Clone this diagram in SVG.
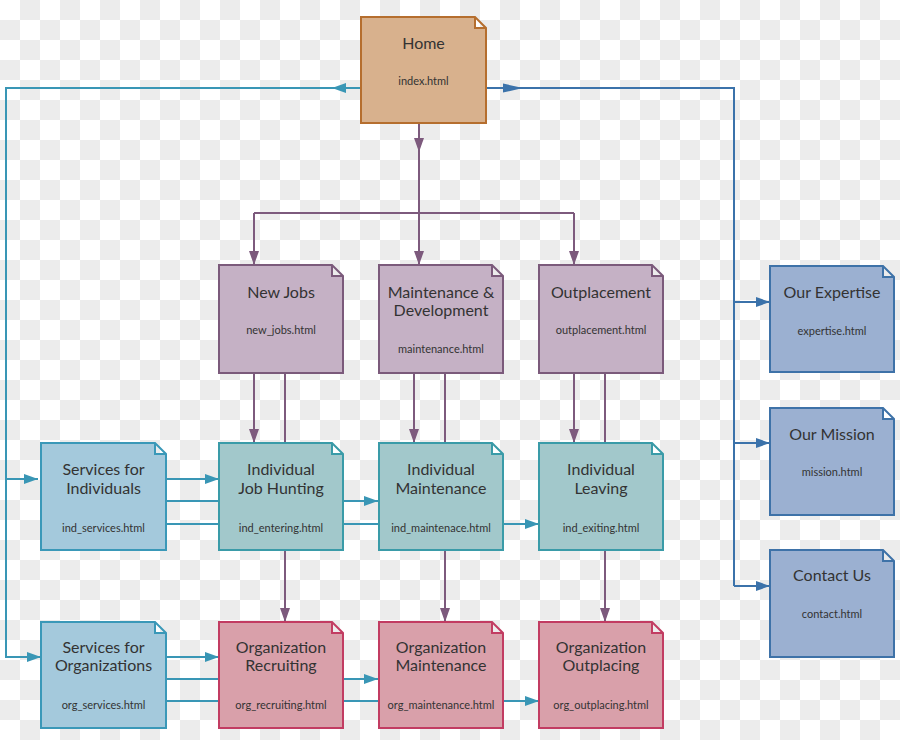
<svg xmlns="http://www.w3.org/2000/svg" width="900" height="740" viewBox="0 0 900 740">
<defs>
<pattern id="checker" x="0" y="0" width="40" height="40" patternUnits="userSpaceOnUse">
<rect width="40" height="40" fill="#ffffff"/>
<rect x="20" y="0" width="20" height="20" fill="#ececec"/>
<rect x="0" y="20" width="20" height="20" fill="#ececec"/>
</pattern>
<marker id="ap" viewBox="0 0 14 10" refX="14" refY="5" markerWidth="14" markerHeight="10" markerUnits="userSpaceOnUse" orient="auto"><path d="M0,0 L14,5 L0,10 Z" fill="#7d5a7d"/></marker>
<marker id="ac" viewBox="0 0 14 10" refX="14" refY="5" markerWidth="14" markerHeight="10" markerUnits="userSpaceOnUse" orient="auto"><path d="M0,0 L14,5 L0,10 Z" fill="#3996b5"/></marker>
<marker id="ab" viewBox="0 0 14 10" refX="14" refY="5" markerWidth="14" markerHeight="10" markerUnits="userSpaceOnUse" orient="auto"><path d="M0,0 L14,5 L0,10 Z" fill="#3b72aa"/></marker>
</defs>
<style>
.t{font-family:Lato,"Open Sans","Liberation Sans",sans-serif;font-size:16px;fill:#333;text-anchor:middle}
.f{font-family:Lato,"Open Sans","Liberation Sans",sans-serif;font-size:11px;fill:#333;text-anchor:middle}
.box{stroke-width:2;stroke-linejoin:miter}
.home{fill:#d8b18d;stroke:#b56e2e}
.pur{fill:#c5b1c5;stroke:#7b5a7b}
.teal{fill:#a2c8cb;stroke:#3a9ba8}
.svc{fill:#a4c9dc;stroke:#3a98b8}
.red{fill:#d9a0aa;stroke:#c23c62}
.blu{fill:#9bb0d1;stroke:#3e72a8}
.cp{fill:none;stroke:#7d5a7d;stroke-width:2}
.cc{fill:none;stroke:#3996b5;stroke-width:2}
.cb{fill:none;stroke:#3b72aa;stroke-width:2}
</style>
<rect width="900" height="740" fill="url(#checker)"/>

<g id="connectors">
<path class="cp" d="M419,124 V213"/>
<path class="cp" d="M419,138 V152" marker-end="url(#ap)"/>
<path class="cp" d="M254,213 H574"/>
<path class="cp" d="M254,213 V265" marker-end="url(#ap)"/>
<path class="cp" d="M419,213 V265" marker-end="url(#ap)"/>
<path class="cp" d="M574,213 V265" marker-end="url(#ap)"/>
<path class="cp" d="M254,373 V443" marker-end="url(#ap)"/>
<path class="cp" d="M285,373 V622" marker-end="url(#ap)"/>
<path class="cp" d="M414,373 V443" marker-end="url(#ap)"/>
<path class="cp" d="M445,373 V622" marker-end="url(#ap)"/>
<path class="cp" d="M574,373 V443" marker-end="url(#ap)"/>
<path class="cp" d="M605,373 V622" marker-end="url(#ap)"/>

<path class="cc" d="M361,88 H6 V657 H41" marker-end="url(#ac)"/>
<path class="cc" d="M346,88 H332" marker-end="url(#ac)"/>
<path class="cc" d="M6,479 H38" marker-end="url(#ac)"/>
<path class="cc" d="M166,479 H219" marker-end="url(#ac)"/>
<path class="cc" d="M166,501 H378" marker-end="url(#ac)"/>
<path class="cc" d="M166,524 H539" marker-end="url(#ac)"/>
<path class="cc" d="M166,657 H219" marker-end="url(#ac)"/>
<path class="cc" d="M166,679 H378" marker-end="url(#ac)"/>
<path class="cc" d="M166,701 H539" marker-end="url(#ac)"/>

<path class="cb" d="M486,88 H734 V586"/>
<polygon points="503,83.5 523,88 503,92.5" fill="#3b72aa"/>
<path class="cb" d="M734,302 H770" marker-end="url(#ab)"/>
<path class="cb" d="M734,443 H770" marker-end="url(#ab)"/>
<path class="cb" d="M734,586 H770" marker-end="url(#ab)"/>
</g>

<g id="home">
<path class="box home" d="M361,17 H475 L486,28 V123 H361 Z M475,17 V28 H486"/>
<text class="t" x="423.5" y="48.5" font-size="17">Home</text>
<text class="f" x="423.5" y="85">index.html</text>
</g>

<g id="new_jobs">
<path class="box pur" d="M219,265 H332 L343,276 V373 H219 Z M332,265 V276 H343"/>
<text class="t" x="281" y="297.5">New Jobs</text>
<text class="f" x="281" y="334">new_jobs.html</text>
</g>
<g id="maintenance">
<path class="box pur" d="M379,265 H492 L503,276 V373 H379 Z M492,265 V276 H503"/>
<text class="t" x="441" y="297.5">Maintenance &amp;</text>
<text class="t" x="441" y="316">Development</text>
<text class="f" x="441" y="353">maintenance.html</text>
</g>
<g id="outplacement">
<path class="box pur" d="M539,265 H652 L663,276 V373 H539 Z M652,265 V276 H663"/>
<text class="t" x="601" y="297.5">Outplacement</text>
<text class="f" x="601" y="334">outplacement.html</text>
</g>

<g id="ind_services">
<path class="box svc" d="M41,443 H155 L166,454 V550 H41 Z M155,443 V454 H166"/>
<text class="t" x="103.5" y="475">Services for</text>
<text class="t" x="103.5" y="494">Individuals</text>
<text class="f" x="103.5" y="531.5">ind_services.html</text>
</g>
<g id="ind_entering">
<path class="box teal" d="M219,443 H332 L343,454 V550 H219 Z M332,443 V454 H343"/>
<text class="t" x="281" y="475">Individual</text>
<text class="t" x="281" y="494">Job Hunting</text>
<text class="f" x="281" y="531.5">ind_entering.html</text>
</g>
<g id="ind_maintenance">
<path class="box teal" d="M379,443 H492 L503,454 V550 H379 Z M492,443 V454 H503"/>
<text class="t" x="441" y="475">Individual</text>
<text class="t" x="441" y="494">Maintenance</text>
<text class="f" x="441" y="531.5">ind_maintenace.html</text>
</g>
<g id="ind_exiting">
<path class="box teal" d="M539,443 H652 L663,454 V550 H539 Z M652,443 V454 H663"/>
<text class="t" x="601" y="475">Individual</text>
<text class="t" x="601" y="494">Leaving</text>
<text class="f" x="601" y="531.5">ind_exiting.html</text>
</g>

<g id="org_services">
<path class="box svc" d="M41,622 H155 L166,633 V728 H41 Z M155,622 V633 H166"/>
<text class="t" x="103.5" y="652.5">Services for</text>
<text class="t" x="103.5" y="671">Organizations</text>
<text class="f" x="103.5" y="708.5">org_services.html</text>
</g>
<g id="org_recruiting">
<path class="box red" d="M219,622 H332 L343,633 V728 H219 Z M332,622 V633 H343"/>
<text class="t" x="281" y="652.5">Organization</text>
<text class="t" x="281" y="671">Recruiting</text>
<text class="f" x="281" y="708.5">org_recruiting.html</text>
</g>
<g id="org_maintenance">
<path class="box red" d="M379,622 H492 L503,633 V728 H379 Z M492,622 V633 H503"/>
<text class="t" x="441" y="652.5">Organization</text>
<text class="t" x="441" y="671">Maintenance</text>
<text class="f" x="441" y="708.5">org_maintenance.html</text>
</g>
<g id="org_outplacing">
<path class="box red" d="M539,622 H652 L663,633 V728 H539 Z M652,622 V633 H663"/>
<text class="t" x="601" y="652.5">Organization</text>
<text class="t" x="601" y="671">Outplacing</text>
<text class="f" x="601" y="708.5">org_outplacing.html</text>
</g>

<g id="expertise">
<path class="box blu" d="M770,266 H883 L894,277 V372 H770 Z M883,266 V277 H894"/>
<text class="t" x="832" y="297.5">Our Expertise</text>
<text class="f" x="832" y="335">expertise.html</text>
</g>
<g id="mission">
<path class="box blu" d="M770,408 H883 L894,419 V515 H770 Z M883,408 V419 H894"/>
<text class="t" x="832" y="439.5">Our Mission</text>
<text class="f" x="832" y="476">mission.html</text>
</g>
<g id="contact">
<path class="box blu" d="M770,550 H883 L894,561 V657 H770 Z M883,550 V561 H894"/>
<text class="t" x="832" y="581">Contact Us</text>
<text class="f" x="832" y="618">contact.html</text>
</g>
</svg>
